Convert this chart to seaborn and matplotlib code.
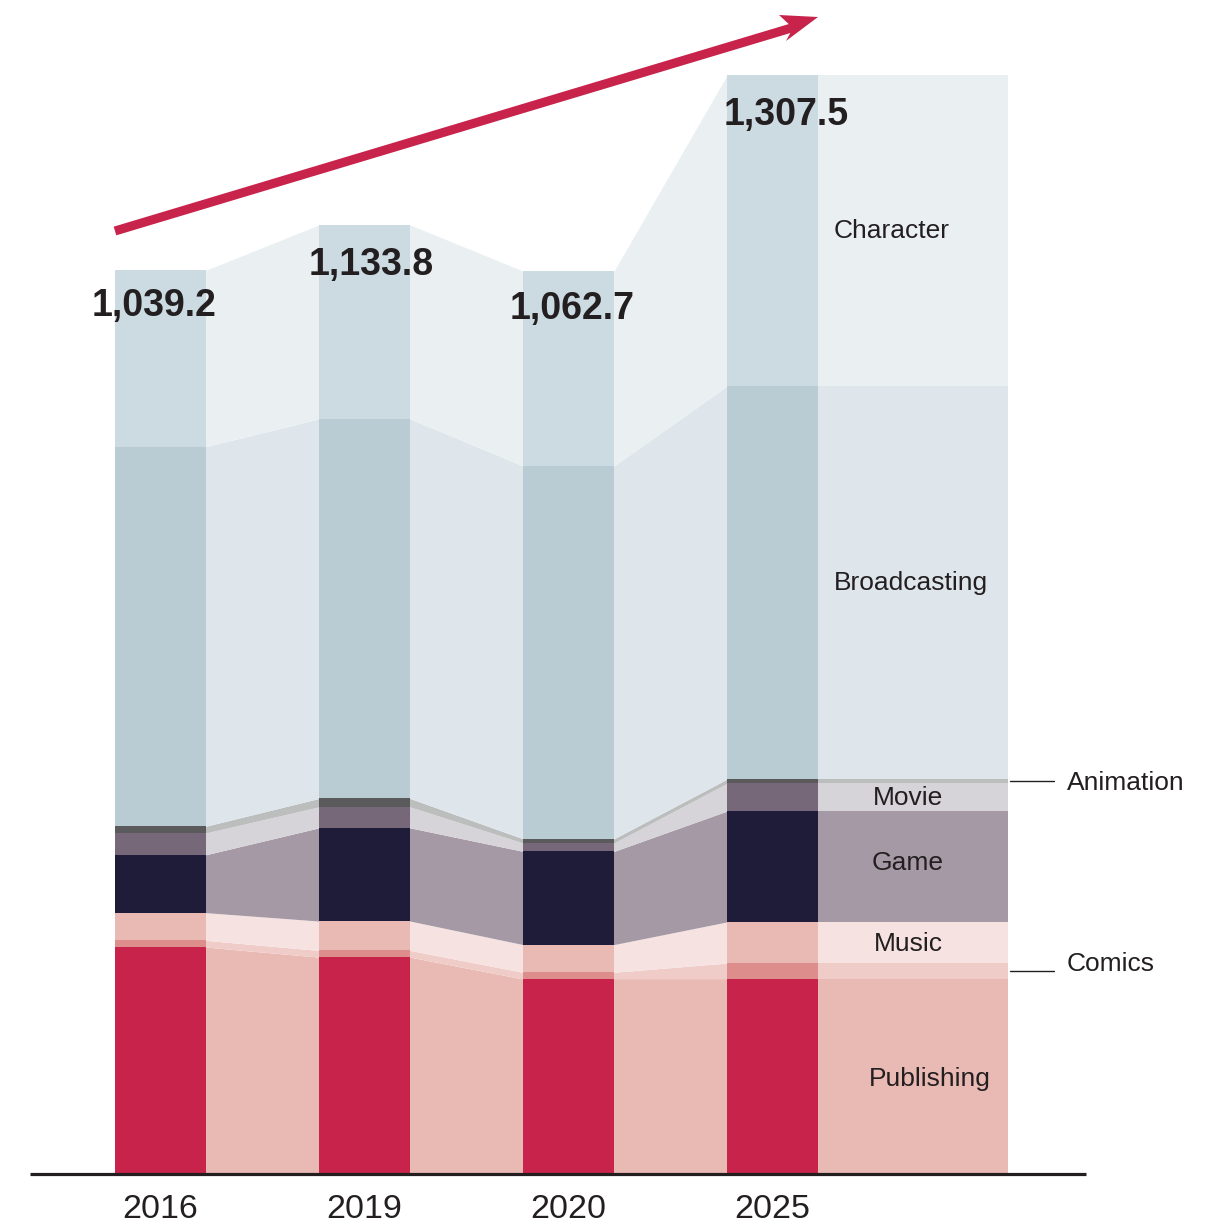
import matplotlib
matplotlib.use("Agg")
import matplotlib.pyplot as plt
from matplotlib.patches import Polygon
import seaborn as sns
import numpy as np
import pandas as pd

# ---------------- data ----------------
years = ["2016", "2019", "2020", "2025"]
total_labels = ["1,039.2", "1,133.8", "1,062.7", "1,307.5"]
categories = ["Publishing", "Comics", "Music", "Game", "Movie",
              "Animation", "Broadcasting", "Character"]
publishing = [269, 257, 231, 231]
comics = [8, 8, 8, 19]
music = [33, 35, 33, 49]
game = [69, 111, 111, 132]
movie = [26, 25, 10, 33]
animation = [8, 10, 5, 5]
broadcasting = [452, 452, 444, 468]
character = [210, 231, 232, 370]

bar_colors = ["#c8234a", "#de8d8d", "#e9b9b3", "#1f1c3a", "#766878",
              "#5a5a5c", "#b9cbd3", "#ccdae2"]
ribbon_colors = ["#e9b9b3", "#f0ccc8", "#f6e3e1", "#a499a5", "#d6d4d8",
                 "#bcbdbd", "#dee6ec", "#eaf0f2"]

series = [publishing, comics, music, game, movie, animation, broadcasting, character]
df = pd.DataFrame(np.array(series).T, columns=categories)
df.insert(0, "year", years)
cum = df[categories].cumsum(axis=1)

# ---------------- figure ----------------
sns.set_theme(style="white")
plt.rcParams["font.family"] = ["Liberation Sans", "DejaVu Sans"]

W, H = 1208, 1230
fig = plt.figure(figsize=(W / 100, H / 100), dpi=100)
ax = fig.add_axes([0, 0, 1, 1])

px_per_unit = 0.8398
x0_px, step_px = 160.5, 204.0
base_px = 1173


def X(px):
    return (px - x0_px) / step_px


def Y(py):
    return (base_px - py) / px_per_unit


bw = 91 / step_px
hw = bw / 2
eps = 0.01

# stacked bars (draw cumulative tops from largest to smallest)
for k in range(len(categories) - 1, -1, -1):
    d = pd.DataFrame({"year": years, "top": cum[categories[k]].values})
    sns.barplot(data=d, x="year", y="top", color=bar_colors[k], saturation=1,
                width=bw, errorbar=None, linewidth=0, ax=ax, zorder=3)

# ribbons between bars and the right-hand label band
n = len(years)
band_right = X(1008)
for k in range(len(categories)):
    low = (cum[categories[k - 1]].values if k > 0 else np.zeros(n))
    up = cum[categories[k]].values
    for i in range(n - 1):
        xs = [i + hw - eps, i + hw, i + 1 - hw, i + 1 - hw + eps]
        ax.fill_between(xs, [low[i], low[i], low[i + 1], low[i + 1]],
                        [up[i], up[i], up[i + 1], up[i + 1]],
                        color=ribbon_colors[k], linewidth=0, zorder=2)
    ax.fill_between([n - 1 + hw - eps, band_right], [low[-1], low[-1]], [up[-1], up[-1]],
                    color=ribbon_colors[k], linewidth=0, zorder=2)

# baseline
ax.plot([X(30), X(1086)], [Y(1174), Y(1174)], color="#231f20", lw=2.3,
        solid_capstyle="butt", zorder=5)

# year labels
for i, yr in enumerate(years):
    ax.text(i, Y(1209), yr, ha="center", va="center", fontsize=24.5, color="#231f20")

# total labels
tot_pos = [(154, 306), (371, 265), (572, 309), (786, 115)]
for (px, py), lab in zip(tot_pos, total_labels):
    ax.text(X(px), Y(py), lab, ha="center", va="center", fontsize=27,
            fontweight="bold", color="#231f20", zorder=6)

# segment labels
txt = "#231f20"
ax.text(X(834), Y(231), "Character", ha="left", va="center", fontsize=19, color=txt, zorder=6)
ax.text(X(834), Y(583), "Broadcasting", ha="left", va="center", fontsize=19, color=txt, zorder=6)
ax.text(X(908), Y(798), "Movie", ha="center", va="center", fontsize=19, color=txt, zorder=6)
ax.text(X(908), Y(863), "Game", ha="center", va="center", fontsize=19, color=txt, zorder=6)
ax.text(X(908), Y(944), "Music", ha="center", va="center", fontsize=19, color=txt, zorder=6)
ax.text(X(930), Y(1079), "Publishing", ha="center", va="center", fontsize=19, color=txt, zorder=6)
ax.text(X(1067), Y(783), "Animation", ha="left", va="center", fontsize=19, color=txt, zorder=6)
ax.text(X(1067), Y(964), "Comics", ha="left", va="center", fontsize=19, color=txt, zorder=6)
for py in (781, 971):
    ax.plot([X(1010), X(1054)], [Y(py), Y(py)], color="#231f20", lw=1.0, zorder=6)

# trend arrow (shaft + barbed head)
red = "#c8234a"
ax.plot([X(115), X(798)], [Y(231), Y(26)], color=red, lw=6.5,
        solid_capstyle="butt", zorder=7)
head = [(818, 17), (779, 15), (793, 28), (786, 41)]
ax.add_patch(Polygon([(X(a), Y(b)) for a, b in head], closed=True,
                     facecolor=red, edgecolor="none", zorder=8))

ax.set_xlim(X(0), X(W))
ax.set_ylim(Y(H), Y(0))
ax.set_axis_off()

fig.savefig("out.png", dpi=100)
